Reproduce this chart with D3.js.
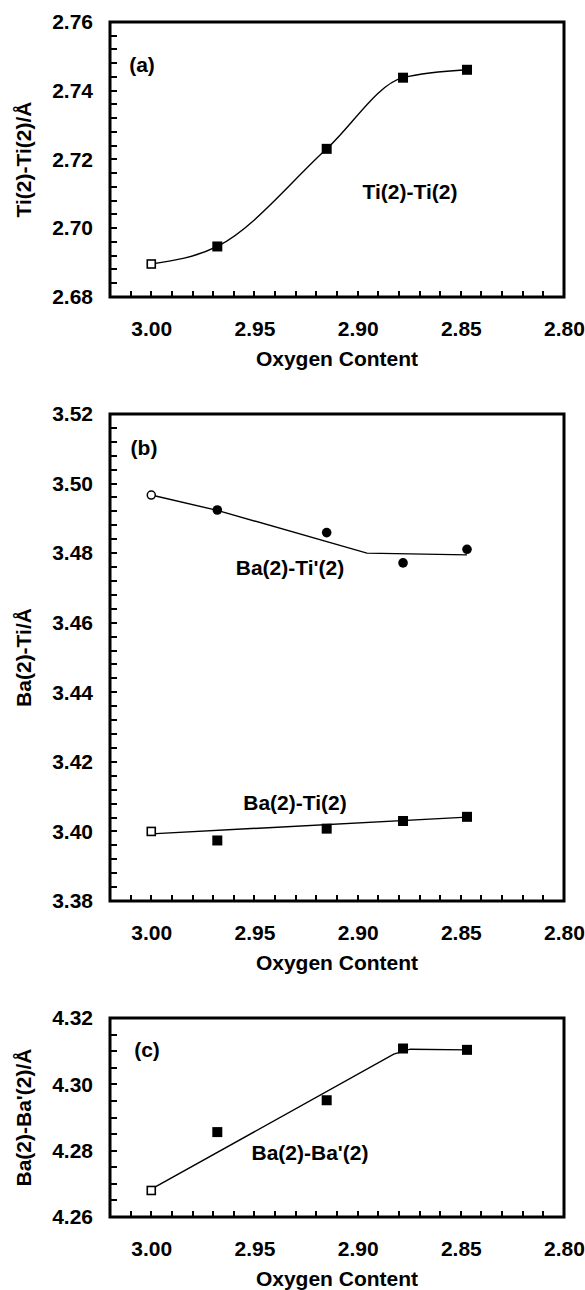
<!DOCTYPE html>
<html>
<head>
<meta charset="utf-8">
<script src="https://cdn.jsdelivr.net/npm/d3@7"></script>
<style>
  body { margin: 0; background: #fff; }
  svg text { font-family: "Liberation Sans", Arial, sans-serif; fill: #000; }
</style>
</head>
<body>
<div id="chart"></div>
<script>
// Oxygen content of the samples (x values shared by all panels)
var oxygen = [3.00, 2.968, 2.915, 2.878, 2.847];

// (a) Ti(2)-Ti(2)
var tiTi = [2.6896, 2.6947, 2.7231, 2.7438, 2.7461];

// (b) Ba(2)-Ti'(2) and Ba(2)-Ti(2)
var baTiPrime = [3.4967, 3.4924, 3.4859, 3.4772, 3.4811];
var baTiPrimeFitX = [3.00, 2.968, 2.8955, 2.847];
var baTiPrimeFitY = [3.4967, 3.4923, 3.4800, 3.4795];
var baTi = [3.4000, 3.3974, 3.4008, 3.4030, 3.4042];
var baTiFitX = [3.00, 2.847];
var baTiFitY = [3.3993, 3.4041];

// (c) Ba(2)-Ba'(2)
var baBaPrime = [4.2680, 4.2856, 4.2952, 4.3108, 4.3104];
var baBaFitX = [3.00, 2.8825, 2.8745, 2.847];
var baBaFitY = [4.2684, 4.3091, 4.3106, 4.3104];

// tick labels
var xTickLabels = [3.00, 2.95, 2.90, 2.85, 2.80];
var yTicksA = [2.68, 2.70, 2.72, 2.74, 2.76];
var yTicksB = [3.38, 3.40, 3.42, 3.44, 3.46, 3.48, 3.50, 3.52];
var yTicksC = [4.26, 4.28, 4.30, 4.32];

var svg = d3.select("#chart")
    .append("svg")
    .attr("width", 585)
    .attr("height", 1290);

var left = 110, right = 564;
var fontSize = 21;

function drawPanel(p) {
    var g = svg.append("g");

    var x = d3.scaleLinear().domain([3.02, 2.80]).range([left, right]);
    var y = d3.scaleLinear().domain(p.yDomain).range([p.bottom, p.top]);

    // minor ticks pointing inward (every 0.01 on x)
    var xMinor = d3.range(1, 22).map(function (i) { return +(3.02 - i * 0.01).toFixed(2); });
    g.append("g")
        .selectAll("line")
        .data(xMinor)
        .enter()
        .append("line")
        .attr("x1", function (d) { return Math.round(x(d)); })
        .attr("x2", function (d) { return Math.round(x(d)); })
        .attr("y1", p.bottom)
        .attr("y2", p.bottom - 6)
        .attr("stroke", "#000")
        .attr("stroke-width", 2);

    var nMinorY = Math.round((p.yDomain[1] - p.yDomain[0]) / p.yStep);
    var yMinor = d3.range(1, nMinorY).map(function (i) { return p.yDomain[0] + i * p.yStep; });
    g.append("g")
        .selectAll("line")
        .data(yMinor)
        .enter()
        .append("line")
        .attr("x1", left)
        .attr("x2", left + 7)
        .attr("y1", function (d) { return Math.round(y(d)); })
        .attr("y2", function (d) { return Math.round(y(d)); })
        .attr("stroke", "#000")
        .attr("stroke-width", 2);

    // tick labels
    g.append("g")
        .attr("transform", "translate(0," + p.bottom + ")")
        .call(d3.axisBottom(x).tickValues(xTickLabels).tickSize(0).tickPadding(24).tickFormat(d3.format(".2f")))
        .call(function (a) { a.select(".domain").remove(); })
        .selectAll("text")
        .style("font-size", fontSize + "px")
        .style("font-weight", "bold")
        .attr("fill", "#000");

    g.append("g")
        .attr("transform", "translate(" + left + ",0)")
        .call(d3.axisLeft(y).tickValues(p.yTicks).tickSize(0).tickPadding(17).tickFormat(d3.format(".2f")))
        .call(function (a) { a.select(".domain").remove(); })
        .selectAll("text")
        .style("font-size", fontSize + "px")
        .style("font-weight", "bold")
        .attr("fill", "#000");

    // frame
    g.append("rect")
        .attr("x", left)
        .attr("y", p.top)
        .attr("width", right - left)
        .attr("height", p.bottom - p.top)
        .attr("fill", "none")
        .attr("stroke", "#000")
        .attr("stroke-width", 3);

    // axis titles
    g.append("text")
        .attr("x", (left + right) / 2)
        .attr("y", p.bottom + 62)
        .attr("dy", "0.35em")
        .style("text-anchor", "middle")
        .style("font-size", fontSize + "px")
        .style("font-weight", "bold")
        .text("Oxygen Content");

    g.append("text")
        .attr("transform", "translate(24," + ((p.top + p.bottom) / 2) + ") rotate(-90)")
        .attr("dy", "0.35em")
        .style("text-anchor", "middle")
        .style("font-size", fontSize + "px")
        .style("font-weight", "bold")
        .text(p.yTitle);

    // panel letter
    g.append("text")
        .attr("x", p.letterPos[0])
        .attr("y", p.letterPos[1])
        .attr("dy", "0.35em")
        .style("text-anchor", "middle")
        .style("font-size", fontSize + "px")
        .style("font-weight", "bold")
        .text(p.letter);

    return { g: g, x: x, y: y };
}

function drawLine(panel, xs, ys, curve) {
    var pts = xs.map(function (d, i) { return [d, ys[i]]; });
    panel.g.append("path")
        .datum(pts)
        .attr("fill", "none")
        .attr("stroke", "#000")
        .attr("stroke-width", 1.4)
        .attr("d", d3.line()
            .x(function (d) { return panel.x(d[0]); })
            .y(function (d) { return panel.y(d[1]); })
            .curve(curve || d3.curveLinear));
}

function drawSquares(panel, ys) {
    panel.g.selectAll(null)
        .data(oxygen)
        .enter()
        .append("rect")
        .attr("x", function (d, i) { return panel.x(d) - (i === 0 ? 4 : 5); })
        .attr("y", function (d, i) { return panel.y(ys[i]) - (i === 0 ? 4 : 5); })
        .attr("width", function (d, i) { return i === 0 ? 8 : 10; })
        .attr("height", function (d, i) { return i === 0 ? 8 : 10; })
        .attr("fill", function (d, i) { return i === 0 ? "#fff" : "#000"; })
        .attr("stroke", "#000")
        .attr("stroke-width", function (d, i) { return i === 0 ? 1.6 : 0; });
}

function drawCircles(panel, ys) {
    panel.g.selectAll(null)
        .data(oxygen)
        .enter()
        .append("circle")
        .attr("cx", function (d) { return panel.x(d); })
        .attr("cy", function (d, i) { return panel.y(ys[i]); })
        .attr("r", function (d, i) { return i === 0 ? 4 : 4.8; })
        .attr("fill", function (d, i) { return i === 0 ? "#fff" : "#000"; })
        .attr("stroke", "#000")
        .attr("stroke-width", function (d, i) { return i === 0 ? 1.5 : 0; });
}

function seriesLabel(panel, px, py, txt) {
    panel.g.append("text")
        .attr("x", px)
        .attr("y", py)
        .attr("dy", "0.35em")
        .style("text-anchor", "middle")
        .style("font-size", fontSize + "px")
        .style("font-weight", "bold")
        .text(txt);
}

// Panel (a)
var pa = drawPanel({ top: 22, bottom: 297, yDomain: [2.68, 2.76], yStep: 0.004, yTicks: yTicksA,
    yTitle: "Ti(2)-Ti(2)/Å", letter: "(a)", letterPos: [142, 65] });
drawLine(pa, oxygen, tiTi, d3.curveMonotoneX);
drawSquares(pa, tiTi);
seriesLabel(pa, 410, 192, "Ti(2)-Ti(2)");

// Panel (b)
var pb = drawPanel({ top: 414, bottom: 901, yDomain: [3.38, 3.52], yStep: 0.004, yTicks: yTicksB,
    yTitle: "Ba(2)-Ti/Å", letter: "(b)", letterPos: [144, 448] });
drawLine(pb, baTiPrimeFitX, baTiPrimeFitY);
drawLine(pb, baTiFitX, baTiFitY);
drawCircles(pb, baTiPrime);
drawSquares(pb, baTi);
seriesLabel(pb, 290, 568, "Ba(2)-Ti'(2)");
seriesLabel(pb, 295, 803, "Ba(2)-Ti(2)");

// Panel (c)
var pc = drawPanel({ top: 1018, bottom: 1217, yDomain: [4.26, 4.32], yStep: 0.005, yTicks: yTicksC,
    yTitle: "Ba(2)-Ba'(2)/Å", letter: "(c)", letterPos: [147, 1050] });
drawLine(pc, baBaFitX, baBaFitY);
drawSquares(pc, baBaPrime);
seriesLabel(pc, 310, 1153, "Ba(2)-Ba'(2)");
</script>
</body>
</html>
